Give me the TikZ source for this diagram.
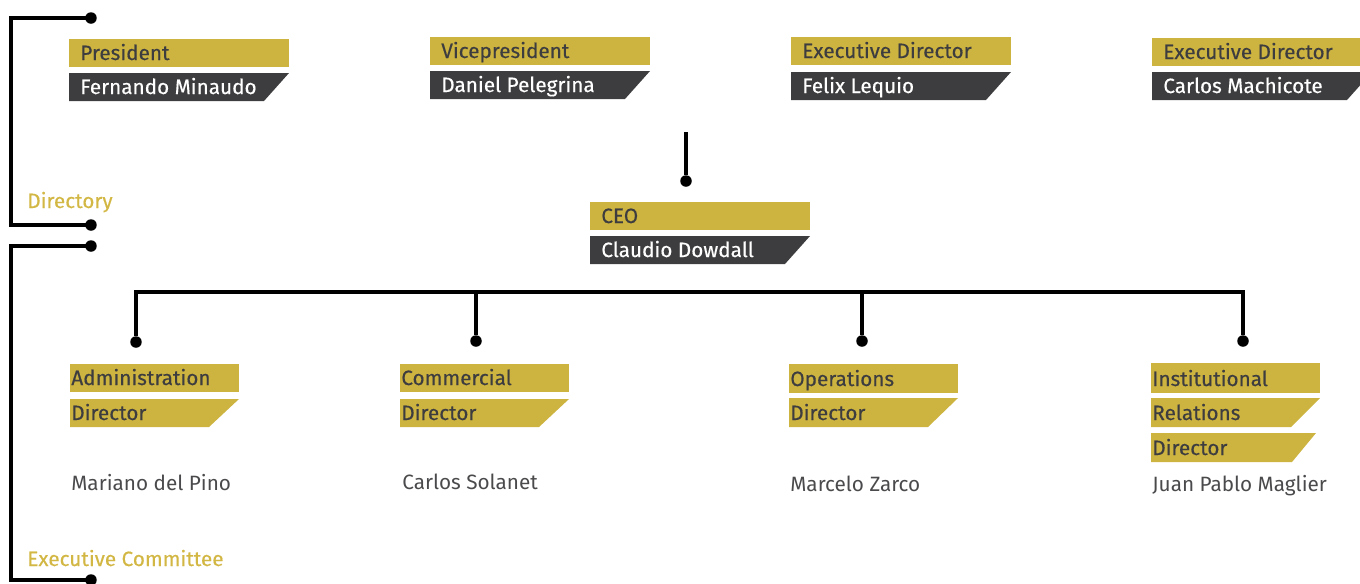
\documentclass[tikz,border=0pt]{standalone}
\usepackage{fontspec}
\setmainfont{Fira Sans}
\newfontfamily\medfont[FakeBold=0.4]{Fira Sans}
\usetikzlibrary{positioning}

\definecolor{gold}{HTML}{CDB33F}
\definecolor{darkgrey}{HTML}{3D3D3F}
\definecolor{labelgold}{HTML}{D2B744}
\definecolor{namegrey}{HTML}{4A4A4C}

\begin{document}
\begin{tikzpicture}[x=0.02cm,y=-0.02cm,
    goldbar/.style={fill=gold,draw=none},
    greybar/.style={fill=darkgrey,draw=none},
    ongold/.style={anchor=base west,inner sep=0pt,text=darkgrey,font=\medfont\fontsize{11.8}{13}\selectfont},
    ongrey/.style={anchor=base west,inner sep=0pt,text=white,font=\medfont\fontsize{11.8}{13}\selectfont},
    person/.style={anchor=base west,inner sep=0pt,text=namegrey,font=\fontsize{11.8}{13}\selectfont},
    group/.style={anchor=base west,inner sep=0pt,text=labelgold,font=\medfont\fontsize{11.8}{13}\selectfont},
    dot/.style={circle,fill=black,inner sep=0pt,minimum size=0.23cm},
    link/.style={line width=2pt}]
\useasboundingbox (0,0) rectangle (1360,583);
\clip (0,0) rectangle (1360,583);

% directory
\fill[goldbar] (69,39) rectangle (289,67);
\fill[greybar] (69,73) -- (289,73) -- (264,101) -- (69,101) -- cycle;
\node[ongold] (pres) at (80,60) {President};
\node[ongrey] (presname) at (80,94) {Fernando Minaudo};

\fill[goldbar] (430,37) rectangle (650,65);
\fill[greybar] (430,71) -- (650,71) -- (625,99) -- (430,99) -- cycle;
\node[ongold] (vice) at (441,58) {Vicepresident};
\node[ongrey] (vicename) at (441,92) {Daniel Pelegrina};

\fill[goldbar] (791,37) rectangle (1011,65);
\fill[greybar] (791,72) -- (1011,72) -- (986,100) -- (791,100) -- cycle;
\node[ongold] (execa) at (802,58) {Executive Director};
\node[ongrey] (execaname) at (802,93) {Felix Lequio};

\fill[goldbar] (1152,38) rectangle (1372,66);
\fill[greybar] (1152,72) -- (1372,72) -- (1347,100) -- (1152,100) -- cycle;
\node[ongold] (execb) at (1163,59) {Executive Director};
\node[ongrey] (execbname) at (1163,93) {Carlos Machicote};

% ceo
\fill[goldbar] (590,202) rectangle (810,230);
\fill[greybar] (590,236) -- (810,236) -- (785,264) -- (590,264) -- cycle;
\node[ongold] (ceo) at (601,223) {CEO};
\node[ongrey] (ceoname) at (601,257) {Claudio Dowdall};

\coordinate (ceotop) at (686,132);
\node[dot] (ceodot) at (686,181) {};
\draw[link] (ceotop) -- (ceodot);

% executive committee
\node[dot] (admdot) at (136,342) {};
\node[dot] (comdot) at (476,341) {};
\node[dot] (opedot) at (862,341) {};
\node[dot] (insdot) at (1243,341) {};
\coordinate (barleft) at (136,292);
\coordinate (barright) at (1243,292);
\draw[link] (admdot) -- (barleft) -- (barright) -- (insdot);
\draw[link] (comdot) -- (comdot |- barleft);
\draw[link] (opedot) -- (opedot |- barleft);

\fill[goldbar] (70,364) rectangle (239,392);
\fill[goldbar] (70,399) -- (239,399) -- (209,427) -- (70,427) -- cycle;
\node[ongold] (adm) at (71,385) {Administration};
\node[ongold] (admdir) at (71,420) {Director};
\node[person] (admname) at (71,490) {Mariano del Pino};

\fill[goldbar] (400,364) rectangle (569,392);
\fill[goldbar] (400,399) -- (569,399) -- (539,427) -- (400,427) -- cycle;
\node[ongold] (com) at (401,385) {Commercial};
\node[ongold] (comdir) at (401,420) {Director};
\node[person] (comname) at (402,489) {Carlos Solanet};

\fill[goldbar] (789,364) rectangle (958,393);
\fill[goldbar] (789,398) -- (958,398) -- (928,427) -- (789,427) -- cycle;
\node[ongold] (ope) at (790,386) {Operations};
\node[ongold] (opedir) at (790,420) {Director};
\node[person] (opename) at (790,491) {Marcelo Zarco};

\fill[goldbar] (1151,363) rectangle (1320,393);
\fill[goldbar] (1151,398) -- (1320,398) -- (1291,427) -- (1151,427) -- cycle;
\fill[goldbar] (1151,433) -- (1316,433) -- (1292,462) -- (1151,462) -- cycle;
\node[ongold] (ins) at (1152,386) {Institutional};
\node[ongold] (insrel) at (1152,420) {Relations};
\node[ongold] (insdir) at (1152,455) {Director};
\node[person] (insname) at (1152,491) {Juan Pablo Maglier};

% brackets
\node[dot] (dirtop) at (91,18) {};
\node[dot] (dirbot) at (91,225) {};
\coordinate (dirside) at (11,120);
\draw[link] (dirtop.center) -| (dirside) |- (dirbot.center);
\node[group] (dirlabel) at (27,208) {Directory};

\node[dot] (comtop) at (91,246) {};
\node[dot] (combot) at (91,580) {};
\coordinate (comside) at (11,400);
\draw[link] (comtop.center) -| (comside) |- (combot.center);
\node[group] (comlabel) at (27,566) {Executive Committee};
\end{tikzpicture}
\end{document}
